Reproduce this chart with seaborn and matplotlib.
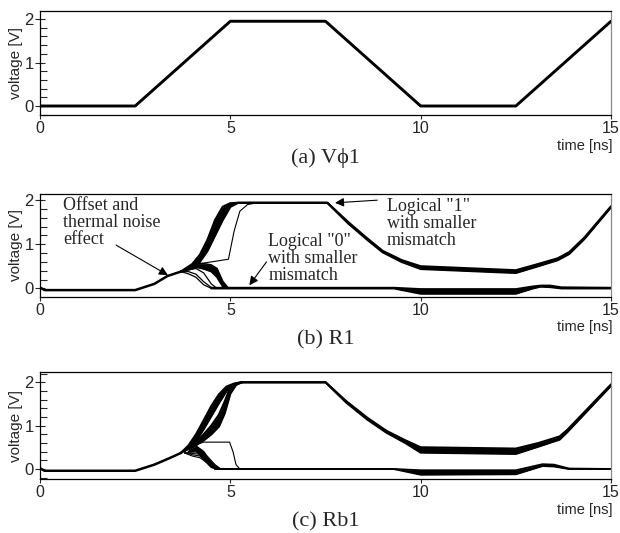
import matplotlib
matplotlib.use('Agg')
import matplotlib.pyplot as plt
from matplotlib.ticker import MultipleLocator
import seaborn as sns

# ---- values (time in ns, voltage in V) ----
# (a) clock phase
t_phi = [0, 2.5, 5.0, 7.5, 10.0, 12.5, 15.0]
v_phi = [0, 0, 1.95, 1.95, 0, 0, 1.95]

# (b) R1
t_b_start = [0, 0.12, 2.5, 3.0, 3.35, 3.7]
v_b_start = [0.02, -0.04, -0.04, 0.1, 0.28, 0.38]

t_b_rise = [3.7, 4.0, 4.2, 4.4, 4.6, 4.8, 5.0, 5.2, 5.5]
v_b_rise_hi = [0.38, 0.55, 0.76, 1.1, 1.55, 1.85, 1.93, 1.94, 1.94]
v_b_rise_lo = [0.38, 0.45, 0.6, 0.85, 1.2, 1.55, 1.85, 1.94, 1.94]

t_b_slow = [4.0, 4.2, 4.95, 5.1, 5.25, 5.45, 5.7]
v_b_slow = [0.5, 0.56, 0.66, 1.3, 1.75, 1.9, 1.94]

t_b_fall = [3.7, 3.9, 4.1, 4.3, 4.5, 4.65, 4.8, 4.95]
v_b_fall_1 = [0.38, 0.33, 0.25, 0.08, 0.0, 0.0, 0.0, 0.0]
v_b_fall_2 = [0.38, 0.38, 0.32, 0.15, 0.02, 0.0, 0.0, 0.0]
v_b_fall_3 = [0.38, 0.42, 0.45, 0.35, 0.1, 0.0, 0.0, 0.0]
v_b_fall_lo = [0.38, 0.44, 0.48, 0.44, 0.38, 0.25, 0.04, 0.0]
v_b_fall_hi = [0.38, 0.47, 0.56, 0.56, 0.53, 0.45, 0.16, 0.0]

t_b_one = [5.5, 7.55, 8.1, 8.6, 9.0, 9.5, 10.0, 12.5, 13.0, 13.6, 13.9, 14.3, 15.0]
v_b_one_hi = [1.94, 1.94, 1.5, 1.13, 0.85, 0.64, 0.5, 0.41, 0.53, 0.68, 0.82, 1.15, 1.86]
v_b_one_lo = [1.94, 1.94, 1.47, 1.1, 0.82, 0.6, 0.44, 0.35, 0.48, 0.64, 0.78, 1.12, 1.84]

t_b_zero = [4.5, 9.3, 10.0, 12.5, 12.95, 13.15, 13.4, 13.7, 15.0]
v_b_zero_hi = [0.01, 0.01, -0.02, -0.02, 0.04, 0.06, 0.06, 0.02, 0.01]
v_b_zero_lo = [0.0, 0.0, -0.12, -0.12, 0.0, 0.04, 0.03, 0.0, 0.0]

# (c) Rb1
t_c_start = [0, 0.12, 2.5, 3.0, 3.4, 3.7]
v_c_start = [0.02, -0.04, -0.04, 0.1, 0.25, 0.37]

t_c_fan1 = [3.7, 3.9, 4.1, 4.3, 4.5, 4.7, 4.9, 5.1, 5.3]
v_c_fan1_hi = [0.37, 0.54, 0.8, 1.12, 1.45, 1.72, 1.9, 1.97, 2.0]
v_c_fan1_lo = [0.37, 0.48, 0.65, 0.92, 1.22, 1.52, 1.8, 1.95, 2.0]

t_c_fan2 = [3.8, 4.1, 4.3, 4.5, 4.7, 4.85, 5.0, 5.15, 5.3]
v_c_fan2_hi = [0.42, 0.62, 0.8, 1.0, 1.25, 1.55, 1.88, 1.97, 2.0]
v_c_fan2_lo = [0.42, 0.55, 0.66, 0.8, 0.98, 1.28, 1.74, 1.94, 2.0]

t_c_thin = [3.8, 4.0, 4.2, 4.4, 4.6, 4.75]
v_c_thin_1 = [0.37, 0.3, 0.26, 0.14, 0.03, 0.0]
v_c_thin_2 = [0.37, 0.33, 0.3, 0.19, 0.05, 0.0]
v_c_thin_3 = [0.37, 0.36, 0.34, 0.24, 0.08, 0.0]
v_c_thin_4 = [0.37, 0.39, 0.39, 0.29, 0.1, 0.0]

t_c_stuck = [3.9, 4.15, 4.3, 4.98, 5.07, 5.15, 5.25]
v_c_stuck = [0.45, 0.58, 0.62, 0.62, 0.4, 0.1, 0.0]

t_c_fall = [3.9, 4.1, 4.3, 4.5, 4.65]
v_c_fall_hi = [0.45, 0.53, 0.4, 0.15, 0.0]
v_c_fall_lo = [0.4, 0.42, 0.22, 0.04, 0.0]

t_c_one = [5.3, 7.5, 8.05, 8.6, 9.1, 9.6, 10.0, 12.5, 13.1, 13.65, 13.85, 15.0]
v_c_one_hi = [2.0, 2.0, 1.56, 1.18, 0.88, 0.66, 0.5, 0.47, 0.6, 0.75, 0.9, 1.95]
v_c_one_lo = [2.0, 2.0, 1.53, 1.14, 0.84, 0.6, 0.38, 0.35, 0.52, 0.68, 0.85, 1.92]

t_c_zero = [4.6, 9.3, 10.0, 12.5, 13.2, 13.5, 13.9, 15.0]
v_c_zero_hi = [0.0, 0.0, -0.03, -0.03, 0.11, 0.1, 0.01, 0.0]
v_c_zero_lo = [0.0, 0.0, -0.13, -0.12, 0.07, 0.06, 0.0, 0.0]

x_ticks = [0, 5, 10, 15]
y_ticks = [0, 1, 2]
captions = ['(a) V\u03d51', '(b) R1', '(c) Rb1']

# ---- style ----
sns.set_style('white')
plt.rcParams['font.family'] = ['Liberation Sans', 'DejaVu Sans']
serif = ['Liberation Serif', 'DejaVu Serif']


def line(ax, t, v, lw=1.8):
    sns.lineplot(x=t, y=v, ax=ax, color='black', lw=lw, sort=False, estimator=None)


def bundle(ax, t, lo, hi, lw=1.6):
    ax.fill_between(t, lo, hi, color='black', lw=0)
    line(ax, t, lo, lw)
    line(ax, t, hi, lw)


def style_axes(ax, ylim):
    ax.set_xlim(0, 15)
    ax.set_ylim(*ylim)
    ax.set_xticks(x_ticks)
    ax.set_yticks(y_ticks)
    ax.yaxis.set_minor_locator(MultipleLocator(0.2))
    ax.tick_params(axis='x', direction='out', length=3, width=0.8, pad=1.5,
                   labelsize=11.5, bottom=True)
    ax.tick_params(axis='y', which='major', direction='inout', length=7, width=0.8,
                   pad=1, labelsize=12, left=True)
    ax.tick_params(axis='y', which='minor', direction='in', length=5, width=0.8, left=True)
    for s in ax.spines.values():
        s.set_color('black')
        s.set_linewidth(0.9)
    ax.spines['right'].set_color('#8a8a8a')
    ax.set_ylabel('voltage [V]', fontsize=11, labelpad=1)
    ax.set_xlabel('')
    ax.annotate('time [ns]', xy=(1, 0), xycoords='axes fraction', xytext=(1, -17),
                textcoords='offset points', ha='right', va='top', fontsize=10.5)


fig = plt.figure(figsize=(6.2, 5.33), dpi=100)
ax_a = fig.add_axes([0.0645, 0.784, 0.921, 0.1957])
ax_b = fig.add_axes([0.0645, 0.4433, 0.921, 0.1927])
ax_c = fig.add_axes([0.0645, 0.1013, 0.921, 0.2002])

# (a)
line(ax_a, t_phi, v_phi, lw=2.1)
style_axes(ax_a, (-0.21, 2.19))

# (b)
line(ax_b, t_b_start, v_b_start)
bundle(ax_b, t_b_rise, v_b_rise_lo, v_b_rise_hi)
line(ax_b, t_b_slow, v_b_slow, lw=0.8)
for v in (v_b_fall_1, v_b_fall_2, v_b_fall_3):
    line(ax_b, t_b_fall, v, lw=0.9)
bundle(ax_b, t_b_fall, v_b_fall_lo, v_b_fall_hi, lw=1.2)
bundle(ax_b, t_b_one, v_b_one_lo, v_b_one_hi)
bundle(ax_b, t_b_zero, v_b_zero_lo, v_b_zero_hi)
style_axes(ax_b, (-0.19, 2.14))

arrow = dict(arrowstyle='-|>', color='black', lw=0.8, mutation_scale=13,
             shrinkA=0, shrinkB=0)
note = dict(fontsize=13, family=serif, va='center', ha='left', linespacing=1.0)
ax_b.text(0.6, 1.5, 'Offset and\nthermal noise\neffect', **note)
ax_b.annotate('', xy=(3.36, 0.3), xytext=(2.0, 0.98), arrowprops=arrow)
ax_b.text(6.0, 0.68, 'Logical "0"\nwith smaller\nmismatch', **note)
ax_b.annotate('', xy=(5.5, 0.07), xytext=(5.95, 0.6), arrowprops=arrow)
ax_b.text(9.12, 1.48, 'Logical "1"\nwith smaller\nmismatch', **note)
ax_b.annotate('', xy=(7.75, 1.94), xytext=(8.86, 2.0), arrowprops=arrow)

# (c)
line(ax_c, t_c_start, v_c_start)
bundle(ax_c, t_c_fan1, v_c_fan1_lo, v_c_fan1_hi)
bundle(ax_c, t_c_fan2, v_c_fan2_lo, v_c_fan2_hi)
for v in (v_c_thin_1, v_c_thin_2, v_c_thin_3, v_c_thin_4):
    line(ax_c, t_c_thin, v, lw=0.8)
line(ax_c, t_c_stuck, v_c_stuck, lw=0.8)
bundle(ax_c, t_c_fall, v_c_fall_lo, v_c_fall_hi, lw=1.2)
bundle(ax_c, t_c_one, v_c_one_lo, v_c_one_hi)
bundle(ax_c, t_c_zero, v_c_zero_lo, v_c_zero_hi, lw=1.4)
style_axes(ax_c, (-0.23, 2.23))

for ax, cap in zip((ax_a, ax_b, ax_c), captions):
    ax.annotate(cap, xy=(0.5, 0), xycoords='axes fraction', xytext=(0, -31),
                textcoords='offset points', ha='center', va='center',
                fontsize=16, family=serif)

fig.savefig('out.png', dpi=100)
